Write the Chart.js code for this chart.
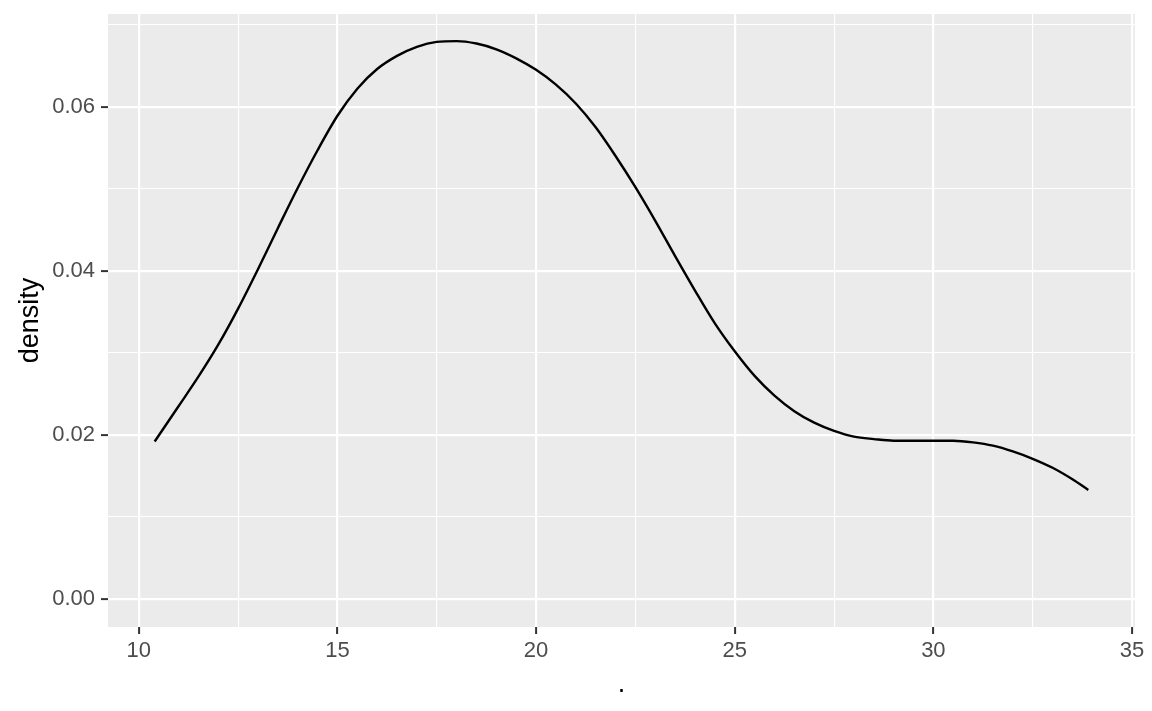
<!DOCTYPE html>
<html>
<head>
<meta charset="utf-8">
<script src="https://cdn.jsdelivr.net/npm/chart.js@4"></script>
<style>
  html, body { margin: 0; padding: 0; background: #fff; }
  #wrap { width: 1152px; height: 711px; }
</style>
</head>
<body>
<div id="wrap"><canvas id="chart"></canvas></div>
<script>
// density curve
const mpg = [10.4, 11.0, 11.5, 12.0, 12.5, 13.0, 13.5, 14.0, 14.5, 15.0, 15.5, 16.0, 16.5, 17.0, 17.5, 18.0, 18.5, 19.0, 19.5, 20.0, 20.5, 21.0, 21.5, 22.0, 22.5, 23.0, 23.5, 24.0, 24.5, 25.0, 25.5, 26.0, 26.5, 27.0, 27.5, 28.0, 28.5, 29.0, 29.5, 30.0, 30.5, 31.0, 31.5, 32.0, 32.5, 33.0, 33.5, 33.9];
const density = [0.0192, 0.0235, 0.0271, 0.0310, 0.0354, 0.0402, 0.0452, 0.0501, 0.0547, 0.0589, 0.0622, 0.0646, 0.0662, 0.0673, 0.0679, 0.0680, 0.0677, 0.0670, 0.0659, 0.0645, 0.0627, 0.0604, 0.0575, 0.0540, 0.0502, 0.0461, 0.0418, 0.0376, 0.0336, 0.0302, 0.0272, 0.0248, 0.0229, 0.0215, 0.0205, 0.0198, 0.0195, 0.0193, 0.0193, 0.0193, 0.0193, 0.0191, 0.0187, 0.0180, 0.0171, 0.0160, 0.0146, 0.0133];

const xTicks = [10, 12.5, 15, 17.5, 20, 22.5, 25, 27.5, 30, 32.5, 35];
const xMajor = [10, 15, 20, 25, 30, 35];
const yTicks = [0, 0.01, 0.02, 0.03, 0.04, 0.05, 0.06, 0.07];
const yMajor = [0, 0.02, 0.04, 0.06];

const isMajor = (list, v) => list.some(m => Math.abs(m - v) < 1e-9);

// grey panel behind the grid
const panelBg = {
  id: 'panelBg',
  beforeDraw(chart) {
    const a = chart.chartArea;
    const ctx = chart.ctx;
    ctx.save();
    ctx.fillStyle = '#EBEBEB';
    ctx.fillRect(a.left, a.top, a.right - a.left, a.bottom - a.top);
    ctx.restore();
  }
};

const points = mpg.map((x, i) => ({ x: x, y: density[i] }));

new Chart(document.getElementById('chart'), {
  type: 'line',
  data: {
    datasets: [{
      data: points,
      borderColor: '#000',
      borderWidth: 2.4,
      pointRadius: 0,
      fill: false,
      cubicInterpolationMode: 'monotone'
    }]
  },
  options: {
    responsive: true,
    maintainAspectRatio: false,
    animation: false,
    layout: { padding: { left: 0, top: 14, right: 17, bottom: 0 } },
    plugins: { legend: { display: false }, tooltip: { enabled: false } },
    scales: {
      x: {
        type: 'linear',
        min: 9.225,
        max: 35.075,
        afterBuildTicks: s => { s.ticks = xTicks.map(v => ({ value: v })); },
        afterFit: s => { s.height = 84; s.paddingLeft = 0; s.paddingRight = 0; },
        border: { display: false },
        grid: {
          color: '#FFFFFF',
          lineWidth: c => isMajor(xMajor, c.tick.value) ? 2.2 : 1.1,
          tickColor: c => isMajor(xMajor, c.tick.value) ? '#333333' : 'rgba(0,0,0,0)',
          tickLength: 7,
          tickWidth: 2
        },
        ticks: {
          autoSkip: false,
          maxRotation: 0,
          padding: 4,
          color: '#4D4D4D',
          font: { family: 'Liberation Sans', size: 22 },
          callback: v => isMajor(xMajor, v) ? String(v) : ''
        },
        title: {
          display: true,
          text: '.',
          color: '#000',
          font: { family: 'Liberation Sans', size: 27 },
          padding: { top: 0, bottom: 10 }
        }
      },
      y: {
        type: 'linear',
        min: -0.0034,
        max: 0.0713,
        afterBuildTicks: s => { s.ticks = yTicks.map(v => ({ value: v })); },
        afterFit: s => { s.width = 108; s.paddingTop = 0; s.paddingBottom = 0; },
        border: { display: false },
        grid: {
          color: '#FFFFFF',
          lineWidth: c => isMajor(yMajor, c.tick.value) ? 2.2 : 1.1,
          tickColor: c => isMajor(yMajor, c.tick.value) ? '#333333' : 'rgba(0,0,0,0)',
          tickLength: 7,
          tickWidth: 2
        },
        ticks: {
          autoSkip: false,
          padding: 6,
          color: '#4D4D4D',
          font: { family: 'Liberation Sans', size: 22 },
          callback: v => isMajor(yMajor, v) ? v.toFixed(2) : ''
        },
        title: {
          display: true,
          text: 'density',
          color: '#000',
          font: { family: 'Liberation Sans', size: 27 },
          padding: { top: 14, bottom: 0 }
        }
      }
    }
  },
  plugins: [panelBg]
});
</script>
</body>
</html>
